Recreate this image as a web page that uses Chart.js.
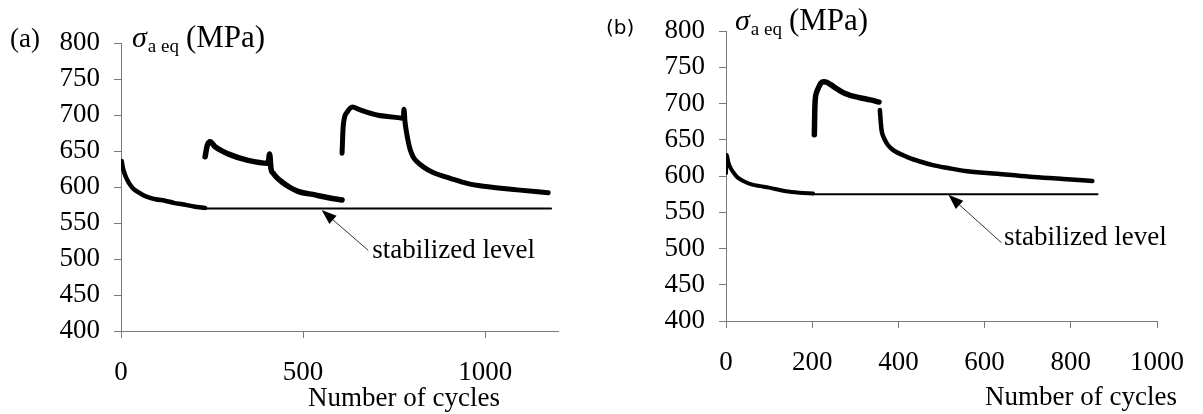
<!DOCTYPE html>
<html>
<head>
<meta charset="utf-8">
<script src="https://cdn.jsdelivr.net/npm/chart.js@4.4.1/dist/chart.umd.min.js"></script>
<style>
  html, body { margin: 0; padding: 0; background: #fff; }
  #wrap { position: relative; width: 1203px; height: 414px; overflow: hidden; }
  canvas { position: absolute; top: 0; }
  #chart-a { left: 0; }
  #chart-b { left: 600px; }
</style>
</head>
<body>
<div id="wrap">
  <canvas id="chart-a" width="600" height="414"></canvas>
  <canvas id="chart-b" width="603" height="414"></canvas>
</div>
<script>
// ---------------------------------------------------------------------------
// Data (cycles, equivalent stress amplitude in MPa)
// ---------------------------------------------------------------------------

// panel (a)
const aSeg1Cycles = [2, 5, 11, 18, 25, 35, 47, 60, 74, 95, 121, 145, 168, 200, 231];
const aSeg1Stress = [636, 627, 617, 609, 603, 597, 593, 589, 586, 583, 581, 578, 576, 573, 571];

const aSeg2Cycles = [231, 237, 245, 258, 294, 349, 404, 408, 412, 418, 428, 442, 462, 486, 533, 570, 607];
const aSeg2Stress = [642, 658, 663, 656, 646, 637, 633, 646, 625, 619, 613, 607, 600, 594, 589, 585, 582];

const aSeg3Cycles = [607, 610, 614, 621, 635, 657, 703, 766, 775, 777, 780, 783, 788, 794, 802, 813, 830, 857, 904, 950, 995, 1088, 1173];
const aSeg3Stress = [647, 683, 697, 704, 711, 707, 700, 696, 695, 708, 690, 679, 665, 652, 642, 635, 628, 620, 612, 605, 601, 596, 592];

const aStableCycles = [231, 1181];
const aStableStress = [570, 570];

const aXTicks = [0, 500, 1000];

// panel (b)
const bSeg1Cycles = [0, 2, 5, 9, 16, 25, 40, 61, 80, 100, 139, 170, 202];
const bSeg1Stress = [604, 629, 620, 613, 606, 599, 593, 588, 586, 584, 579, 577, 576];

const bSeg2Cycles = [205, 206, 207, 210, 214, 220, 227, 235, 243, 258, 275, 290, 311, 335, 355];
const bSeg2Stress = [657, 690, 705, 715, 721, 728, 730, 729, 726, 720, 714, 711, 708, 705, 702];

const bSeg3Cycles = [357, 359, 361, 366, 373, 383, 395, 410, 425, 450, 480, 515, 555, 630, 705, 782, 850];
const bSeg3Stress = [691, 675, 663, 653, 645, 638, 633, 629, 625, 620, 615, 611, 607, 603, 599, 596, 593];

const bStableCycles = [202, 862];
const bStableStress = [575, 575];

const bXTicks = [0, 200, 400, 600, 800, 1000];

const yTicks = [400, 450, 500, 550, 600, 650, 700, 750, 800];

// ---------------------------------------------------------------------------
// Helpers
// ---------------------------------------------------------------------------

const SERIF = '"Liberation Serif", "Times New Roman", serif';

function pts(xs, ys) {
  return xs.map((x, i) => ({ x, y: ys[i] }));
}

function curve(xs, ys, width) {
  return {
    data: pts(xs, ys),
    showLine: true,
    borderColor: '#000',
    borderWidth: width,
    borderCapStyle: 'round',
    borderJoinStyle: 'round',
    pointRadius: 0,
    cubicInterpolationMode: 'monotone',
  };
}

// Text, axis titles and the "stabilized level" arrow
const labelsPlugin = {
  id: 'figureText',
  afterDraw(chart, args, opts) {
    const ctx = chart.ctx;
    const xs = chart.scales.x;
    const ys = chart.scales.y;
    ctx.save();
    ctx.fillStyle = '#000';
    ctx.textBaseline = 'alphabetic';
    ctx.textAlign = 'left';

    // panel label
    ctx.font = opts.panelFont;
    ctx.fillText(opts.panel, opts.panelPos[0], opts.panelPos[1]);

    // y title: sigma_a eq (MPa)
    let [tx, ty] = opts.yTitlePos;
    ctx.font = 'italic 30px ' + SERIF;
    ctx.fillText('σ', tx, ty);
    tx += ctx.measureText('σ').width + 1;
    ctx.font = '19px ' + SERIF;
    ctx.fillText('a eq', tx, ty + 5);
    tx += ctx.measureText('a eq').width + 7;
    ctx.font = '31px ' + SERIF;
    ctx.fillText('(MPa)', tx, ty);

    // x title
    ctx.font = '27px ' + SERIF;
    ctx.fillText('Number of cycles', opts.xTitlePos[0], opts.xTitlePos[1]);

    // arrow
    const [tipX, tipY, tailX, tailY, textX, textY] = opts.arrow;
    const px1 = xs.getPixelForValue(tailX), py1 = ys.getPixelForValue(tailY);
    const px2 = xs.getPixelForValue(tipX), py2 = ys.getPixelForValue(tipY);
    const ang = Math.atan2(py2 - py1, px2 - px1);
    const headLen = 15, headHalf = 5.5;
    ctx.strokeStyle = '#333';
    ctx.lineWidth = 1;
    ctx.beginPath();
    ctx.moveTo(px1, py1);
    ctx.lineTo(px2 - Math.cos(ang) * headLen * 0.8, py2 - Math.sin(ang) * headLen * 0.8);
    ctx.stroke();
    ctx.beginPath();
    ctx.moveTo(px2, py2);
    ctx.lineTo(px2 - Math.cos(ang) * headLen - Math.sin(ang) * headHalf,
               py2 - Math.sin(ang) * headLen + Math.cos(ang) * headHalf);
    ctx.lineTo(px2 - Math.cos(ang) * headLen + Math.sin(ang) * headHalf,
               py2 - Math.sin(ang) * headLen - Math.cos(ang) * headHalf);
    ctx.closePath();
    ctx.fillStyle = '#000';
    ctx.fill();

    ctx.font = '27px ' + SERIF;
    ctx.fillText('stabilized level', xs.getPixelForValue(textX), ys.getPixelForValue(textY));
    ctx.restore();
  },
};

function makeOptions(cfg) {
  const axisColor = '#7a7a7a';
  return {
    responsive: false,
    animation: false,
    events: [],
    layout: { padding: { left: 0, top: cfg.top, right: cfg.right, bottom: 0 } },
    plugins: {
      legend: { display: false },
      tooltip: { enabled: false },
      figureText: cfg.text,
    },
    scales: {
      x: {
        type: 'linear',
        min: 0,
        max: cfg.xMax,
        afterBuildTicks: scale => {
          scale.ticks = cfg.xTicks.map(v => ({ value: v }));
        },
        afterFit: scale => { scale.height = cfg.xHeight; },
        ticks: {
          color: '#000',
          font: { family: SERIF, size: 27 },
          padding: 19,
          maxRotation: 0,
          autoSkip: false,
          callback: v => String(v),
        },
        grid: { drawOnChartArea: false, drawTicks: true, tickLength: 7, color: axisColor },
        border: { display: true, color: axisColor, width: 1 },
      },
      y: {
        type: 'linear',
        min: 400,
        max: 800,
        afterBuildTicks: scale => {
          scale.ticks = yTicks.map(v => ({ value: v }));
        },
        afterFit: scale => { scale.width = cfg.yWidth; },
        ticks: {
          color: '#000',
          font: { family: SERIF, size: 27 },
          padding: 14,
          autoSkip: false,
          callback: v => String(v),
        },
        grid: { drawOnChartArea: false, drawTicks: true, tickLength: 7, color: axisColor },
        border: { display: true, color: axisColor, width: 1 },
      },
    },
  };
}

// ---------------------------------------------------------------------------
// Panel (a)
// ---------------------------------------------------------------------------

new Chart(document.getElementById('chart-a'), {
  type: 'scatter',
  data: {
    datasets: [
      curve(aStableCycles, aStableStress, 2),
      curve(aSeg1Cycles, aSeg1Stress, 4.5),
      curve(aSeg2Cycles, aSeg2Stress, 5.5),
      curve(aSeg3Cycles, aSeg3Stress, 5),
    ],
  },
  options: makeOptions({
    top: 43, right: 42, xMax: 1200, xTicks: aXTicks, xHeight: 83, yWidth: 121,
    text: {
      panel: '(a)',
      panelFont: '27px ' + SERIF,
      panelPos: [10, 47],
      yTitlePos: [132, 47],
      xTitlePos: [308, 406],
      arrow: [551, 568, 679, 512, 690, 501],
    },
  }),
  plugins: [labelsPlugin],
});

// ---------------------------------------------------------------------------
// Panel (b)
// ---------------------------------------------------------------------------

new Chart(document.getElementById('chart-b'), {
  type: 'scatter',
  data: {
    datasets: [
      curve(bStableCycles, bStableStress, 2),
      curve(bSeg1Cycles, bSeg1Stress, 4),
      curve(bSeg2Cycles, bSeg2Stress, 5.5),
      curve(bSeg3Cycles, bSeg3Stress, 4.5),
    ],
  },
  options: makeOptions({
    top: 31, right: 37, xMax: 1000, xTicks: bXTicks, xHeight: 93, yWidth: 126,
    text: {
      panel: '(b)',
      panelFont: '20px "DejaVu Sans", sans-serif',
      panelPos: [6, 34],
      yTitlePos: [135, 30],
      xTitlePos: [385, 405],
      arrow: [516, 574, 639, 508, 645, 505],
    },
  }),
  plugins: [labelsPlugin],
});
</script>
</body>
</html>
